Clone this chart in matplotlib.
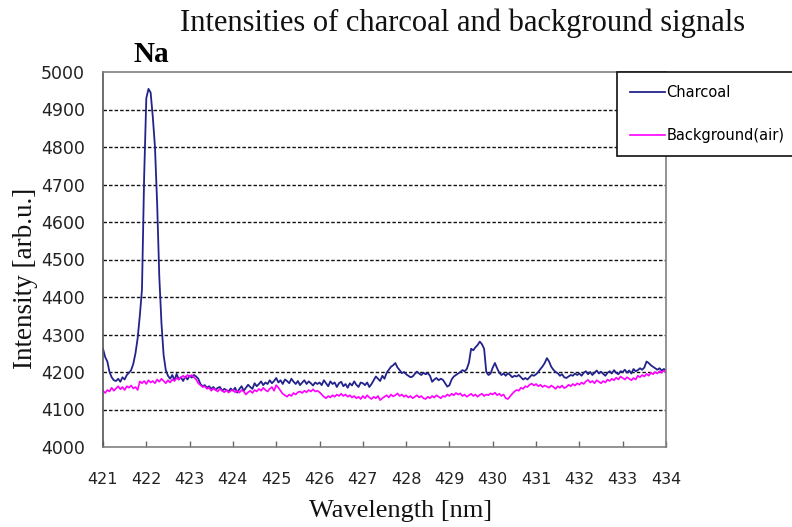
import numpy as np
import matplotlib
matplotlib.use("Agg")
import matplotlib.pyplot as plt

# wavelength grid of the spectrometer readout (0.05 nm step, 421-434 nm)
wl_start = 421.0
wl_step = 0.05

# Charcoal spectrum, one row per nm
charcoal = [
    4262, 4240, 4228, 4200, 4186, 4178, 4176, 4182, 4174, 4186, 4180, 4192, 4198, 4205, 4222, 4250, 4290, 4350, 4420, 4720,
    4930, 4955, 4945, 4880, 4800, 4650, 4454, 4330, 4245, 4205, 4190, 4182, 4192, 4178, 4195, 4180, 4186, 4176, 4188, 4180,
    4190, 4185, 4192, 4188, 4182, 4168, 4162, 4165, 4158, 4162, 4155, 4160, 4152, 4158, 4160, 4150, 4155, 4152, 4148, 4156,
    4150, 4158, 4145, 4155, 4162, 4150, 4158, 4166, 4160, 4155, 4170, 4162, 4168, 4175, 4165, 4172, 4168, 4178, 4170, 4176,
    4184, 4172, 4178, 4168, 4180, 4176, 4170, 4182, 4174, 4168, 4176, 4165, 4172, 4178, 4168, 4175, 4170, 4164, 4172, 4168,
    4172, 4165, 4178, 4170, 4162, 4175, 4168, 4172, 4160, 4170, 4174, 4162, 4168, 4158, 4170, 4164, 4175, 4166, 4160, 4172,
    4170, 4165, 4172, 4160, 4168, 4178, 4188, 4182, 4176, 4190, 4182, 4198, 4206, 4214, 4218, 4224, 4212, 4205, 4197, 4200,
    4194, 4190, 4186, 4188, 4195, 4201, 4196, 4192, 4198, 4194, 4197, 4190, 4174, 4180, 4184, 4178, 4182, 4179, 4170, 4161,
    4165, 4180, 4188, 4192, 4196, 4200, 4205, 4202, 4208, 4225, 4262, 4258, 4266, 4272, 4281, 4274, 4262, 4200, 4192, 4196,
    4212, 4224, 4210, 4198, 4192, 4196, 4190, 4197, 4192, 4186, 4190, 4188, 4192, 4186, 4180, 4184, 4180, 4186, 4192, 4190,
    4194, 4200, 4208, 4215, 4224, 4237, 4228, 4214, 4206, 4200, 4197, 4190, 4194, 4186, 4184, 4188, 4192, 4190, 4196, 4192,
    4196, 4190, 4198, 4202, 4194, 4200, 4192, 4198, 4204, 4196, 4201, 4195, 4190, 4198, 4202, 4196, 4205, 4198, 4194, 4202,
    4200, 4206, 4198, 4204, 4196, 4208, 4202, 4205, 4210, 4206, 4212, 4228, 4224, 4218, 4214, 4210, 4206, 4210, 4204, 4208,
    4205,
]

# Background (air) spectrum, one row per nm
background = [
    4150, 4144, 4152, 4148, 4158, 4150, 4156, 4162, 4154, 4160, 4152, 4162, 4158, 4164, 4156, 4160, 4152, 4175, 4170, 4176,
    4168, 4178, 4172, 4176, 4170, 4180, 4174, 4182, 4176, 4170, 4178, 4172, 4180, 4176, 4184, 4180, 4186, 4190, 4184, 4192,
    4188, 4192, 4186, 4180, 4170, 4165, 4160, 4162, 4155, 4158, 4150, 4156, 4152, 4148, 4155, 4150, 4146, 4152, 4145, 4150,
    4152, 4146, 4150, 4145, 4152, 4148, 4140, 4146, 4150, 4144, 4152, 4148, 4155, 4150, 4158, 4152, 4148, 4155, 4160, 4150,
    4165, 4158, 4150, 4142, 4138, 4134, 4140, 4136, 4144, 4140, 4146, 4148, 4144, 4150, 4146, 4152, 4148, 4154, 4148, 4150,
    4146, 4140, 4134, 4130, 4136, 4132, 4138, 4134, 4140, 4136, 4142, 4136, 4140, 4134, 4138, 4132, 4136, 4130, 4134, 4128,
    4136, 4130, 4138, 4132, 4128, 4134, 4130, 4136, 4125, 4130, 4134, 4138, 4132, 4140, 4135, 4138, 4143, 4136, 4140, 4134,
    4138, 4132, 4136, 4130, 4134, 4138, 4132, 4136, 4130, 4128, 4134, 4130, 4136, 4132, 4138, 4134, 4130, 4136, 4134, 4140,
    4136, 4142, 4138, 4144, 4140, 4143, 4136, 4140, 4134, 4138, 4142, 4136, 4140, 4134, 4139, 4142, 4136, 4140, 4138, 4143,
    4140, 4145, 4138, 4142, 4136, 4140, 4130, 4128, 4135, 4142, 4148, 4152, 4150, 4158, 4155, 4162, 4160, 4166, 4169, 4164,
    4168, 4162, 4166, 4160, 4164, 4161, 4158, 4164, 4160, 4155, 4162, 4158, 4164, 4157, 4160, 4166, 4162, 4168, 4164, 4170,
    4166, 4172, 4168, 4175, 4179, 4172, 4176, 4170, 4178, 4174, 4170, 4176, 4172, 4180, 4176, 4182, 4178, 4185, 4180, 4188,
    4184, 4180, 4186, 4182, 4178, 4184, 4180, 4190, 4186, 4192, 4188, 4195, 4190, 4198, 4194, 4200, 4196, 4202, 4198, 4204,
    4200,
]

series_names = ["Charcoal", "Background(air)"]
x_ticks = list(range(421, 435))
y_ticks = list(range(4000, 5001, 100))

wavelength = wl_start + wl_step * np.arange(len(charcoal))

serif = ["Liberation Serif", "DejaVu Serif"]
sans = ["DejaVu Sans"]

fig = plt.figure(figsize=(7.92, 5.27), dpi=100)
ax = fig.add_axes([103 / 792, 1 - 447 / 527, 563 / 792, 375 / 527])

l1, = ax.plot(wavelength, charcoal, color="#23238c", lw=1.3)
l2, = ax.plot(wavelength, background, color="#ff00ff", lw=1.2)

ax.set_xlim(421, 434)
ax.set_ylim(4000, 5000)
ax.set_xticks(x_ticks)
ax.set_yticks(y_ticks)
ax.tick_params(axis="x", direction="in", length=4, width=1, color="#666666",
               pad=18, labelsize=11.5)
ax.tick_params(axis="y", length=0, pad=13, labelsize=12.5)
for lab in ax.get_xticklabels() + ax.get_yticklabels():
    lab.set_family(sans)
    lab.set_color("#222222")

# dashed horizontal grid, skip the two lines sitting on the frame
ax.yaxis.grid(True, color="#111111", lw=1.0, linestyle=(0, (2.5, 1.5)))
gl = ax.yaxis.get_gridlines()
gl[0].set_visible(False)
gl[-1].set_visible(False)

for side in ["left", "bottom", "right", "top"]:
    ax.spines[side].set_color("#808080")
    ax.spines[side].set_linewidth(1.2)
ax.spines["left"].set_color("#555555")

ax.set_xlabel("Wavelength [nm]", family=serif, fontsize=19, color="#111111")
ax.set_ylabel("Intensity [arb.u.]", family=serif, fontsize=19.5, color="#111111")
ax.yaxis.set_label_coords(-0.115, 0.45)
ax.xaxis.set_label_coords(0.528, -0.142)

fig.text(463 / 792, 1 - 23 / 527, "Intensities of charcoal and background signals",
         family=serif, fontsize=22, ha="center", va="center", color="#111111")
ax.text(422.11, 5048, "Na", family=serif, fontsize=21, fontweight="bold",
        ha="center", va="center", clip_on=False)

leg = fig.legend([l1, l2], series_names, loc="upper left",
                 bbox_to_anchor=(617 / 792, 1 - 72 / 527),
                 prop={"family": sans, "size": 10.5}, frameon=True, fancybox=False,
                 edgecolor="#111111", framealpha=1, handlelength=2.4,
                 handletextpad=0.1, labelspacing=1.9, borderpad=0.9,
                 borderaxespad=0)
leg.get_frame().set_linewidth(1.2)

fig.savefig("out.png", dpi=100)
